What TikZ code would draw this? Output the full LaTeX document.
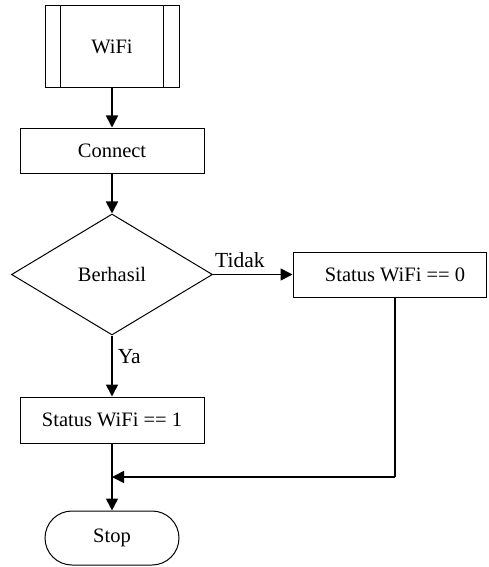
\documentclass[tikz,border=0pt]{standalone}
\usepackage{fontspec}
\setmainfont{Liberation Serif}
\usetikzlibrary{arrows.meta,shapes.geometric}
\begin{document}
\begin{tikzpicture}[x=1pt,y=-1pt,
  every node/.style={font=\fontsize{20.5}{24}\selectfont},
  boxstyle/.style={draw,line width=1pt,rectangle,inner sep=0pt},
  decision/.style={draw,line width=1pt,diamond,inner sep=0pt,minimum width=201pt,minimum height=121pt},
  terminal/.style={draw,line width=1pt,rectangle,rounded corners=27pt,inner sep=0pt},
  flow/.style={line width=1.6pt,-{Triangle[length=12pt,width=12pt]}},
  lbl/.style={font=\fontsize{21.5}{24}\selectfont,inner sep=0pt}]
\useasboundingbox (0,0) rectangle (488,567);

% predefined process
\node[boxstyle,minimum width=134pt,minimum height=82pt] (wifi) at (112,47) {WiFi};
\draw[line width=1pt] ([xshift=16pt]wifi.north west) -- ([xshift=16pt]wifi.south west);
\draw[line width=1pt] ([xshift=-16pt]wifi.north east) -- ([xshift=-16pt]wifi.south east);

\node[boxstyle,minimum width=184pt,minimum height=45pt] (conn) at (112,150.5) {Connect};
\node[decision] (dec) at (112,274.5) {Berhasil};
\node[boxstyle,minimum width=193pt,minimum height=45pt] (s0) at (389.5,274.5) {\hspace*{11pt}Status WiFi == 0};
\node[boxstyle,minimum width=184pt,minimum height=46pt] (s1) at (112,420) {Status WiFi == 1};
\node[terminal,minimum width=134pt,minimum height=54pt] (stop) at (112,538) {Stop};

\coordinate (corner) at (395,477);
\coordinate (join) at (112,477);

\draw[flow] (wifi) -- (conn);
\draw[flow] (conn) -- (dec);
\draw[flow] (dec.east) -- (s0.west);
\node[lbl,anchor=south west] (tidak) at ([xshift=2pt,yshift=7pt]dec.east) {Tidak};
\draw[flow] (dec.south) -- node[lbl,right,pos=0.35,xshift=5pt] (ya) {Ya} (s1.north);
\draw[flow] (s1) -- (stop);
\draw[line width=1.6pt] ([xshift=5.5pt]s0.south) -- (corner);
\draw[flow] (corner) -- (join);
\end{tikzpicture}
\end{document}
